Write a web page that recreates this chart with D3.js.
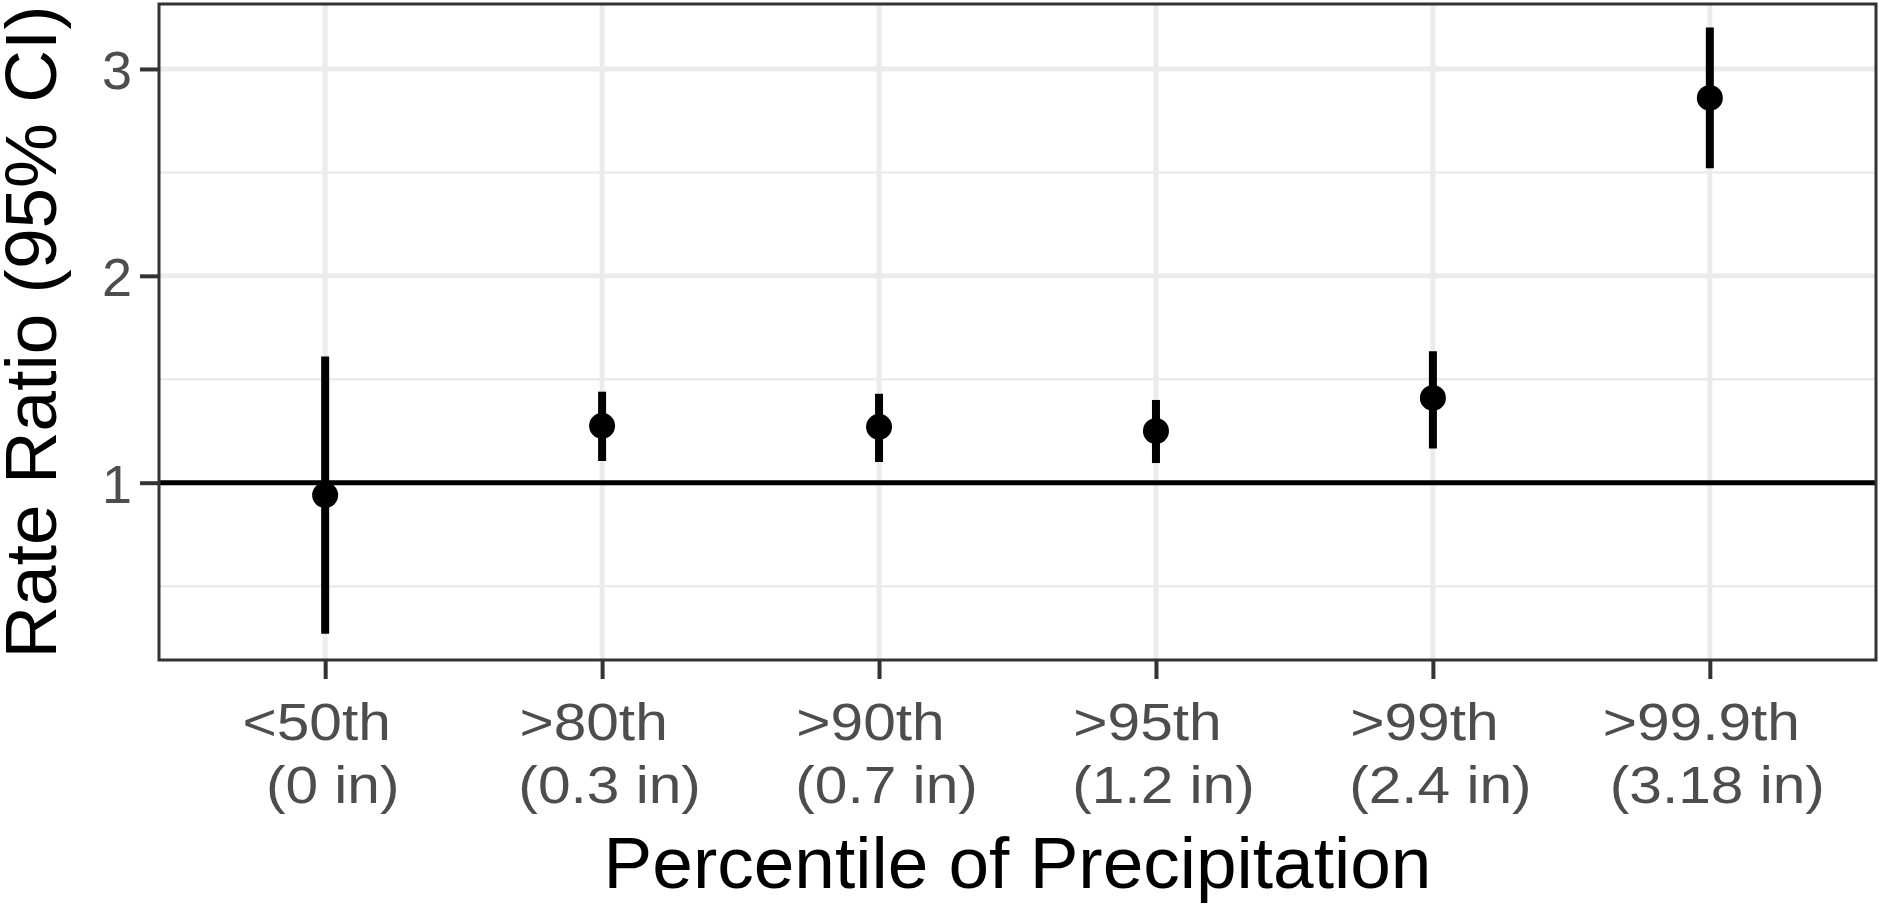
<!DOCTYPE html>
<html>
<head>
<meta charset="utf-8">
<script src="https://cdn.jsdelivr.net/npm/d3@7"></script>
<style>
  body { margin: 0; background: #fff; }
  svg { display: block; font-family: "Liberation Sans", Arial, sans-serif; }
</style>
</head>
<body>
<svg id="chart" width="1881" height="905"></svg>
<script>
// categories (two-line tick labels)
var categories = ["<50th", ">80th", ">90th", ">95th", ">99th", ">99.9th"];
var amounts = ["(0 in)", "(0.3 in)", "(0.7 in)", "(1.2 in)", "(2.4 in)", "(3.18 in)"];

// rate ratio estimates and 95% CI
var estimate = [0.94, 1.275, 1.27, 1.25, 1.41, 2.86];
var lower = [0.27, 1.105, 1.10, 1.095, 1.165, 2.52];
var upper = [1.61, 1.44, 1.43, 1.40, 1.635, 3.20];

var yMajor = [1, 2, 3];
var yMinor = [0.5, 1.5, 2.5];

var svgEl = d3.select("#chart");

// panel placement
var margin = { top: 4, right: 5, bottom: 245, left: 159 },
  width = svgEl.attr("width") - margin.left - margin.right,
  height = svgEl.attr("height") - margin.top - margin.bottom;

var svg = svgEl
  .append("g")
  .attr("transform", "translate(" + margin.left + "," + margin.top + ")");

var data = categories.map(function (c, i) {
  return { cat: c, amt: amounts[i], est: estimate[i], lo: lower[i], hi: upper[i] };
});

// X scale: discrete, ggplot-style 0.6 expansion
var x = d3.scalePoint().domain(categories).range([0, width]).padding(0.6);

// Y scale
var y = d3.scaleLinear().domain([0.143, 3.314]).range([height, 0]);

// minor grid
svg.selectAll("line.minor")
  .data(yMinor)
  .enter()
  .append("line")
  .attr("x1", 0)
  .attr("x2", width)
  .attr("y1", function (d) { return y(d); })
  .attr("y2", function (d) { return y(d); })
  .attr("stroke", "#ebebeb")
  .attr("stroke-width", 2.5);

// major grid (horizontal)
svg.selectAll("line.majorY")
  .data(yMajor)
  .enter()
  .append("line")
  .attr("x1", 0)
  .attr("x2", width)
  .attr("y1", function (d) { return y(d); })
  .attr("y2", function (d) { return y(d); })
  .attr("stroke", "#ebebeb")
  .attr("stroke-width", 5);

// major grid (vertical)
svg.selectAll("line.majorX")
  .data(categories)
  .enter()
  .append("line")
  .attr("x1", function (d) { return x(d); })
  .attr("x2", function (d) { return x(d); })
  .attr("y1", 0)
  .attr("y2", height)
  .attr("stroke", "#ebebeb")
  .attr("stroke-width", 5);

// reference line at 1
svg.append("line")
  .attr("x1", 0)
  .attr("x2", width)
  .attr("y1", y(1))
  .attr("y2", y(1))
  .attr("stroke", "#000")
  .attr("stroke-width", 5);

// error bars
svg.selectAll("line.ci")
  .data(data)
  .enter()
  .append("line")
  .attr("x1", function (d) { return x(d.cat); })
  .attr("x2", function (d) { return x(d.cat); })
  .attr("y1", function (d) { return y(d.lo); })
  .attr("y2", function (d) { return y(d.hi); })
  .attr("stroke", "#000")
  .attr("stroke-width", 8);

// points
svg.selectAll("circle")
  .data(data)
  .enter()
  .append("circle")
  .attr("cx", function (d) { return x(d.cat); })
  .attr("cy", function (d) { return y(d.est); })
  .attr("r", 13)
  .attr("fill", "#000");

// panel border
svg.append("rect")
  .attr("x", 0)
  .attr("y", 0)
  .attr("width", width)
  .attr("height", height)
  .attr("fill", "none")
  .attr("stroke", "#333333")
  .attr("stroke-width", 3);

// Y axis
var yAxis = svg.append("g")
  .call(d3.axisLeft(y).tickValues(yMajor).tickFormat(d3.format("d")).tickSize(19).tickPadding(8))
  .attr("font-family", null)
  .attr("font-size", null);
yAxis.select(".domain").remove();
yAxis.selectAll(".tick line").attr("stroke", "#333333").attr("stroke-width", 4);
yAxis.selectAll(".tick text")
  .attr("fill", "#4d4d4d")
  .style("font-size", "54px")
  .attr("dy", "0.36em");

// X axis
var xAxis = svg.append("g")
  .attr("transform", "translate(0," + height + ")")
  .call(d3.axisBottom(x).tickSize(19).tickFormat(""))
  .attr("font-family", null)
  .attr("font-size", null);
xAxis.select(".domain").remove();
xAxis.selectAll(".tick line").attr("stroke", "#333333").attr("stroke-width", 4);
xAxis.selectAll(".tick text").remove();

// labels in the reference are a little wider than the font, stretch them
var stretch = 1.15;
var labels = xAxis.selectAll(".tick")
  .data(data)
  .append("text")
  .attr("transform", "scale(" + stretch + ",1)")
  .attr("fill", "#4d4d4d")
  .attr("text-anchor", "middle")
  .style("font-size", "51px");
labels.append("tspan")
  .attr("x", -9 / stretch)
  .attr("y", 80)
  .text(function (d) { return d.cat; });
labels.append("tspan")
  .attr("x", 7 / stretch)
  .attr("y", 143)
  .text(function (d) { return d.amt; });

// axis titles
svg.append("text")
  .attr("x", width / 2)
  .attr("y", height + 228)
  .attr("text-anchor", "middle")
  .style("font-size", "73px")
  .attr("fill", "#000")
  .text("Percentile of Precipitation");

svg.append("text")
  .attr("transform", "rotate(-90)")
  .attr("x", -height / 2)
  .attr("y", -103)
  .attr("text-anchor", "middle")
  .style("font-size", "73px")
  .attr("fill", "#000")
  .text("Rate Ratio (95% CI)");
</script>
</body>
</html>
